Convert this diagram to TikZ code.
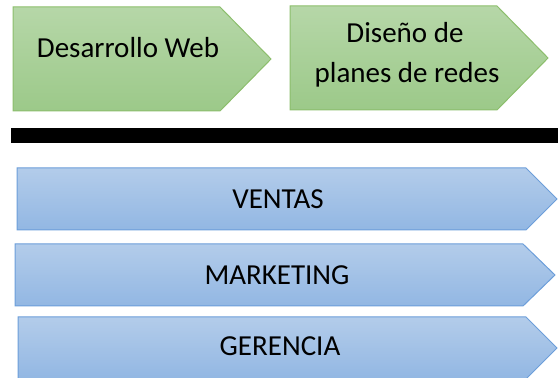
\documentclass[tikz,border=0pt]{standalone}
\usepackage{fontspec}
\setmainfont{Carlito}
\definecolor{gtop}{RGB}{182,215,168}
\definecolor{gbot}{RGB}{156,201,137}
\definecolor{gline}{RGB}{140,190,108}
\definecolor{btop}{RGB}{179,204,234}
\definecolor{bbot}{RGB}{146,183,227}
\definecolor{bline}{RGB}{108,158,218}
\tikzset{
  greenarrow/.style={top color=gtop, bottom color=gbot, draw=gline, line width=1pt, line join=miter},
  bluearrow/.style={top color=btop, bottom color=bbot, draw=bline, line width=1pt, line join=miter},
  lbl/.style={font=\fontsize{29}{34}\selectfont, text=black, inner sep=0pt, anchor=base}
}
\begin{document}
\begin{tikzpicture}[x=1pt,y=1pt]
\useasboundingbox (0,0) rectangle (558,378);
% green arrows
\path[greenarrow] (13,267) -- (13,371) -- (220,371) -- (271,319) -- (220,267) -- cycle;
\path[greenarrow] (290,268) -- (290,372) -- (497,372) -- (548,320) -- (497,268) -- cycle;
\node[lbl] (web) at (128,320) {Desarrollo Web};
\node[lbl] (dis1) at (405,335) {Diseño de};
\node[lbl] (dis2) at (407,295) {planes de redes};
% black bar
\fill[black] (11,235) rectangle (558,250);
% blue arrows
\path[bluearrow] (17,148) -- (17,210) -- (526,210) -- (557,179) -- (526,148) -- cycle;
\path[bluearrow] (15,72) -- (15,134) -- (523,134) -- (555,103) -- (523,72) -- cycle;
\path[bluearrow] (18,-1) -- (18,61) -- (526,61) -- (557,30) -- (526,-1) -- cycle;
\node[lbl] (ventas) at (278,169) {VENTAS};
\node[lbl] (mkt) at (277,93.5) {MARKETING};
\node[lbl] (ger) at (280,22) {GERENCIA};
\end{tikzpicture}
\end{document}
